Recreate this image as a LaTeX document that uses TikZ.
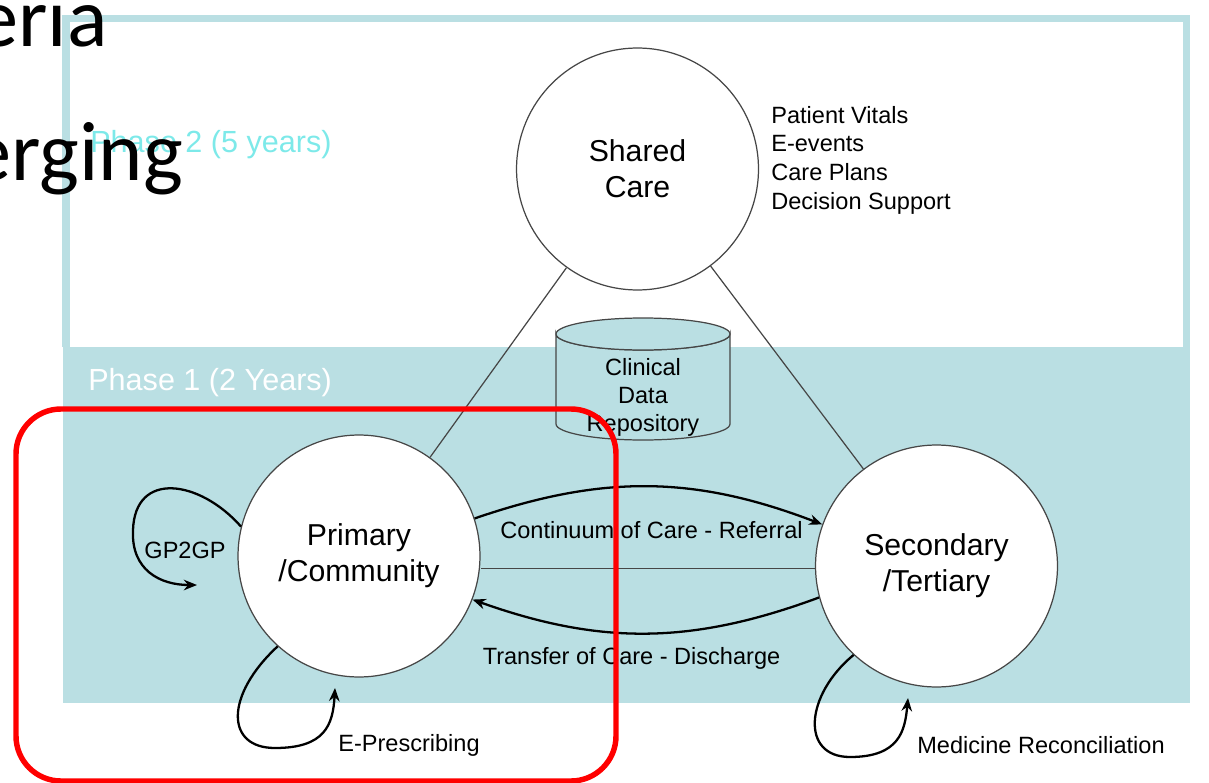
\documentclass[tikz,border=0pt]{standalone}
\usepackage{fontspec}
\setmainfont{Liberation Sans}
\newfontfamily\slidefont{Carlito}
\usepackage{xcolor}
\usepackage{tikz}
\usetikzlibrary{positioning, arrows.meta}

\definecolor{phaseteal}{RGB}{186,223,227}
\definecolor{phasecyan}{RGB}{125,233,233}
\definecolor{rimgray}{RGB}{70,70,70}

\begin{document}
\begin{tikzpicture}[x=0.02cm, y=0.02cm]

			% Define styles
			\tikzset{
				stage/.style={
					circle, draw=rimgray, line width=0.7pt, fill=white,
					minimum size=4.84cm, inner sep=0pt, align=center,
					font=\fontsize{17.2}{20.4}\selectfont
				},
				phaselabel/.style={anchor=west, inner sep=0pt, font=\fontsize{17.4}{20}\selectfont},
				flowlabel/.style={inner sep=0pt, font=\fontsize{13.4}{16}\selectfont},
				infolist/.style={anchor=west, inner sep=0pt, align=left, font=\fontsize{13.4}{16.3}\selectfont},
				cdrtext/.style={inner sep=0pt, align=center, font=\fontsize{13.4}{15.9}\selectfont},
				cdrbody/.style={draw=rimgray, line width=0.7pt, fill=phaseteal},
				link/.style={draw=rimgray, line width=0.7pt},
				arrow/.style={line width=1.3pt, -{Stealth[length=7.5pt, width=6pt]}},
				slidetext/.style={anchor=base east, inner sep=0pt, font=\slidefont\fontsize{48}{48}\selectfont},
				focus/.style={draw=red, line width=3.1pt, rounded corners=0.9cm}
			}

			\useasboundingbox (0,0) rectangle (1209,782);

			% Phases
			\fill[phaseteal] (63,79) rectangle (1190,435);
			\draw[phaseteal, line width=4pt] (66,435) -- (66,763.5) -- (1186.5,763.5) -- (1186.5,435);
			\node (phasetwo) [phaselabel, text=phasecyan] at (90,637) {Phase 2 (5 years)};
			\node (phaseone) [phaselabel, text=white] at (88,399) {Phase 1 (2 Years)};

			% Care settings
			\node (shared)    [stage] at (637.5,613) {Shared\\Care};
			\node (primary)   [stage] at (359,226)   {Primary\\/Community};
			\node (secondary) [stage] at (936.5,216) {Secondary\\/Tertiary};
			\node (sharedinfo) [infolist] at (771,622) {Patient Vitals\\E-events\\Care Plans\\Decision Support};

			% Triangle
			\draw[link] (shared) -- (primary);
			\draw[link] (shared) -- (secondary);
			\draw[link] (secondary.181.5) -- (secondary.181.5 -| primary.east);

			% Repository
			\path[cdrbody] (556,448) -- (556,358) arc[start angle=180, end angle=360, x radius=87, y radius=16]
				-- (730,448) arc[start angle=360, end angle=180, x radius=87, y radius=16] -- cycle;
			\draw[cdrbody] (643,448) ellipse [x radius=87, y radius=16];
			\node (cdr) [cdrtext] at (643,385) {Clinical\\Data\\Repository};

			% Flows between settings
			\draw[arrow] (primary.18) to[bend left=20] (secondary.160);
			\draw[arrow] (secondary.195) to[bend left=20] (primary.339);
			\node (referral)  [flowlabel] at (651.5,252) {Continuum of Care - Referral};
			\node (discharge) [flowlabel] at (631.5,124) {Transfer of Care - Discharge};

			% Loops
			\coordinate (gpend) at (197,197);
			\coordinate (epend) at (335,94);
			\coordinate (medend) at (908,84);
			\draw[arrow] (primary.166) .. controls (200,302) and (135,312) .. (133,252)
				.. controls (131,212) and (160,197) .. (gpend);
			\draw[arrow] (primary.228) .. controls (225,87) and (225,34) .. (275,34)
				.. controls (325,34) and (333,57) .. (epend);
			\draw[arrow] (secondary.227) .. controls (805,87) and (800,25) .. (850,25)
				.. controls (900,25) and (905,52) .. (medend);
			\node (gptwogp) [flowlabel] at (185,232) {GP2GP};
			\node (eprescribing) [flowlabel, anchor=west] at (338,37) {E-Prescribing};
			\node (medrec) [flowlabel, anchor=west] at (917,37) {Medicine Reconciliation};

			% Highlight and slide text
			\draw[focus] (16,373) rectangle (616,1);
			\node (slideone) [slidetext] at (108,735) {eria};
			\node (slidetwo) [slidetext] at (183,602) {erging};

		\end{tikzpicture}
\end{document}
